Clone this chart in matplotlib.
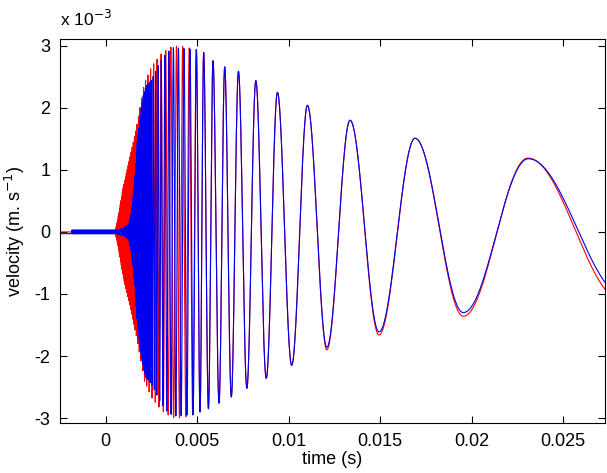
import numpy as np
import matplotlib
matplotlib.use('Agg')
import matplotlib.pyplot as plt

plt.rcParams['font.family'] = ['Liberation Sans', 'DejaVu Sans']
plt.rcParams['axes.unicode_minus'] = False

# values, velocity in units of 1e-3 m/s, time in s

# envelope of the dense (unresolved) start of each trace
red_env_t = [-0.0025, 0.00050, 0.00065, 0.00096, 0.00133, 0.00169, 0.00193, 0.00211,
             0.00251, 0.00306, 0.00361, 0.00400, 0.00450, 0.00495]
red_env_v = [0.0, 0.0, 0.19, 0.73, 1.21, 1.70, 2.10, 2.40, 2.67, 2.88, 2.99, 3.00, 2.97, 2.94]
blue_env_t = [-0.0025, 0.0006, 0.0010, 0.00125, 0.00142, 0.0016, 0.0017, 0.00187, 0.00205,
              0.0022, 0.0025, 0.0029, 0.0033, 0.0037, 0.00495]
blue_env_v = [0.03, 0.03, 0.06, 0.12, 0.35, 0.90, 1.40, 1.85, 2.20, 2.35, 2.45, 2.70, 2.88, 2.97, 2.94]

# rough oscillation frequency of the dense part
freq_t = [-0.0025, 0.0006, 0.0012, 0.0018, 0.0024, 0.0030, 0.0036, 0.0042, 0.00495]
freq_hz = [30000, 30000, 20000, 12000, 6500, 4200, 3300, 2850, 2500]

# blue trace runs a little behind red at the start
lag_t = [-0.0025, 0.0013, 0.0025, 0.0040, 0.00495]
lag_s = [0.00065, 0.00060, 0.00030, 0.00010, 0.0]

# peaks and troughs of the resolved part
ext_t_red = [0.00495, 0.00515, 0.00535, 0.00561, 0.00586, 0.00619, 0.00650, 0.00686,
             0.00725, 0.00771, 0.00820, 0.00877, 0.00938, 0.01016, 0.01102, 0.01208,
             0.01335, 0.01493, 0.01690, 0.01954, 0.02307, 0.0282]
ext_v_red = [2.94, -2.90, 2.89, -2.85, 2.76, -2.76, 2.66, -2.66, 2.59, -2.52, 2.44, -2.36,
             2.25, -2.15, 2.04, -1.90, 1.80, -1.66, 1.51, -1.36, 1.19, -1.10]
ext_t_blue = [0.00495, 0.00515, 0.00535, 0.00561, 0.00586, 0.00619, 0.00650, 0.00686,
              0.00725, 0.00771, 0.00820, 0.00877, 0.00938, 0.01016, 0.01102, 0.01208,
              0.01335, 0.01493, 0.01690, 0.01954, 0.02309, 0.0284]
ext_v_blue = [2.94, -2.90, 2.89, -2.85, 2.76, -2.76, 2.66, -2.66, 2.59, -2.52, 2.44, -2.36,
              2.25, -2.15, 2.04, -1.86, 1.80, -1.61, 1.51, -1.30, 1.18, -1.05]

x_ticks = [0, 0.005, 0.01, 0.015, 0.02, 0.025]
x_labels = ['0', '0.005', '0.01', '0.015', '0.02', '0.025']
y_ticks = [-3, -2, -1, 0, 1, 2, 3]


t = np.arange(-0.0025, 0.02735, 2.5e-7)
f = np.interp(t, freq_t, freq_hz)
cyc = np.concatenate([[0.0], np.cumsum(0.5 * (f[1:] + f[:-1]) * np.diff(t))])
cyc = cyc - np.interp(freq_t[-1], t, cyc)


def trace(ext_t, ext_v, env_t, env_v, lag=None):
    ext_t = np.array(ext_t)
    ext_v = np.array(ext_v)
    tt = t if lag is None else t - np.interp(t, lag[0], lag[1])
    y = np.interp(t, env_t, env_v) * np.cos(2 * np.pi * np.interp(tt, t, cyc))
    late = t >= ext_t[0]
    k = np.clip(np.searchsorted(ext_t, t[late], 'right') - 1, 0, len(ext_t) - 2)
    frac = (t[late] - ext_t[k]) / (ext_t[k + 1] - ext_t[k])
    y[late] = ext_v[k] + (ext_v[k + 1] - ext_v[k]) * (1 - np.cos(np.pi * frac)) / 2
    return y


red = trace(ext_t_red, ext_v_red, red_env_t, red_env_v)
blue = trace(ext_t_blue, ext_v_blue, blue_env_t, blue_env_v, (lag_t, lag_s))

fig = plt.figure(figsize=(6.07, 4.73), dpi=100)
ax = fig.add_axes([60 / 607, 50 / 473, 545 / 607, 384 / 473])
ax.plot(t, red, color='#ff0000', lw=0.8)
ax.plot(t, blue, color='#0000f0', lw=0.8)

ax.set_xlim(-0.0025, 0.02728)
ax.set_ylim(-3.08, 3.11)
ax.set_xticks(x_ticks)
ax.set_xticklabels(x_labels)
ax.set_yticks(y_ticks)
ax.tick_params(direction='in', top=True, right=True, labelsize=13, length=5, width=0.8, pad=7)
for s in ax.spines.values():
    s.set_linewidth(0.8)
ax.set_xlabel('time (s)', fontsize=13, labelpad=1)
ax.set_ylabel('velocity (m. s$^{-1}$)', fontsize=13, labelpad=5)
ax.text(0.0, 1.025, 'x 10$^{-3}$', transform=ax.transAxes, fontsize=12.5, ha='left', va='bottom')

fig.savefig('out.png', dpi=100)
